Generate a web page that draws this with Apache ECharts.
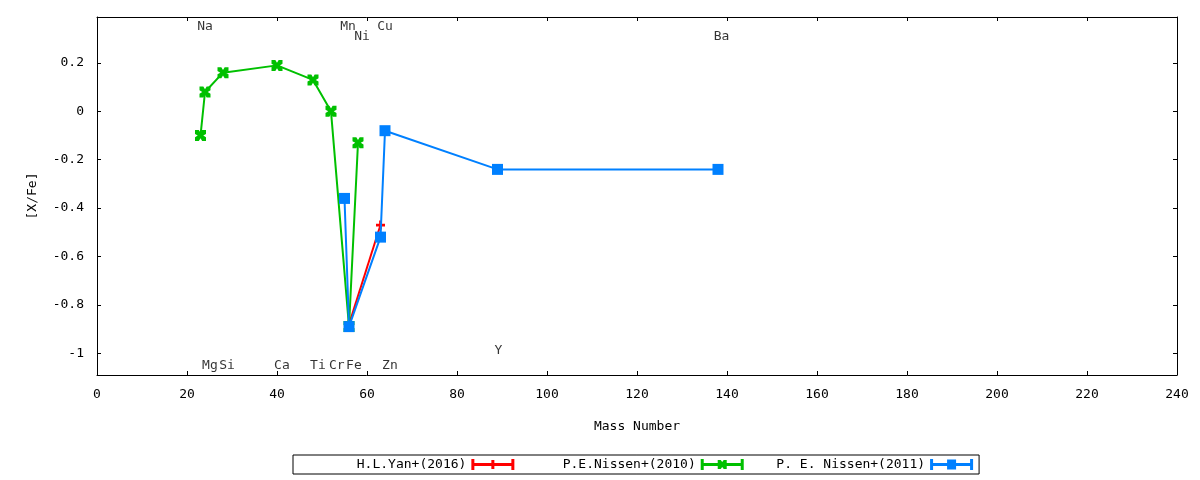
<!DOCTYPE html>
<html>
<head>
<meta charset="utf-8">
<script src="https://cdn.jsdelivr.net/npm/echarts@6/dist/echarts.min.js"></script>
<style>
html,body{margin:0;padding:0;background:#fff;}
#chart{width:1200px;height:480px;}
</style>
</head>
<body>
<div id="chart"></div>
<script>
// ---- data ----
const seriesNames = ['H.L.Yan+(2016)', 'P.E.Nissen+(2010)', 'P. E. Nissen+(2011)'];
const yanMass = [56, 63];
const yanXFe = [-0.88, -0.47];
const nissen2010Mass = [23, 24, 28, 40, 48, 52, 56, 58];
const nissen2010XFe = [-0.10, 0.08, 0.16, 0.19, 0.13, 0.00, -0.89, -0.13];
const nissen2011Mass = [55, 56, 63, 64, 89, 138];
const nissen2011XFe = [-0.36, -0.89, -0.52, -0.08, -0.24, -0.24];
const elementNames = ['Na', 'Mn', 'Cu', 'Ni', 'Ba', 'Mg', 'Si', 'Ca', 'Ti', 'Cr', 'Fe', 'Zn', 'Y'];
const elementLabelX = [24, 55.8, 64, 58.9, 138.8, 25.1, 28.9, 41.1, 49.1, 53.3, 57.1, 65.1, 89.2];
const elementLabelY = [0.35, 0.35, 0.35, 0.31, 0.31, -1.05, -1.05, -1.05, -1.05, -1.05, -1.05, -1.05, -0.99];
const xTicks = [0, 20, 40, 60, 80, 100, 120, 140, 160, 180, 200, 220, 240];
const yTicks = [-1, -0.8, -0.6, -0.4, -0.2, 0, 0.2];

const colors = ['#ff0000', '#00c000', '#0080ff'];
const FONT = 'DejaVu Sans Mono';
const FS = 13;

const pair = (xs, ys) => xs.map((x, i) => [x, ys[i]]);

const xSymbolPath = 'path://M0,0 L3.5,0 L5,2.5 L6.5,0 L10,0 L10,3.5 L7.5,5 L10,6.5 L10,10 L6.5,10 L5,7.5 L3.5,10 L0,10 L0,6.5 L2.5,5 L0,3.5 Z';
const plusSymbolPath = 'path://M3.5,0 L6.5,0 L6.5,3.5 L10,3.5 L10,6.5 L6.5,6.5 L6.5,10 L3.5,10 L3.5,6.5 L0,6.5 L0,3.5 L3.5,3.5 Z';

const bars = 'M0,0 L3,0 L3,11 L0,11 Z M40,0 L43,0 L43,11 L40,11 Z M0,4 L43,4 L43,7 L0,7 Z';
const legendIcons = [
  'path://' + bars + ' M20,1 L23,1 L23,10 L20,10 Z',
  'path://' + bars + ' M17,1 L20,1 L21.5,3 L23,1 L26,1 L26,4 L24.5,5.5 L26,7 L26,10 L23,10 L21.5,8 L20,10 L17,10 L17,7 L18.5,5.5 L17,4 Z',
  'path://' + bars + ' M17,0.5 L26,0.5 L26,10.5 L17,10.5 Z'
];

const tickStyle = {show: true, inside: true, length: 4, lineStyle: {color: '#000', width: 1}};
const lineAx = {show: true, onZero: false, lineStyle: {color: '#000', width: 1}};

// right-align legend text in fixed-width (monospace) columns
const LEGEND_COLS = 21;
const padName = name => '\u00a0'.repeat(Math.max(0, LEGEND_COLS - name.length)) + name;

const chart = echarts.init(document.getElementById('chart'), null, {renderer: 'canvas'});
chart.setOption({
  backgroundColor: '#fff',
  animation: false,
  textStyle: {fontFamily: FONT, color: '#000'},
  grid: {left: 97, right: 23, top: 17, bottom: 105, containLabel: false},
  xAxis: [{
    type: 'value', min: 0, max: 240, interval: 20,
    name: 'Mass Number', nameLocation: 'middle', nameGap: 45,
    nameTextStyle: {fontFamily: FONT, fontSize: FS, color: '#000'},
    axisLine: lineAx, axisTick: tickStyle,
    axisLabel: {fontFamily: FONT, fontSize: FS, color: '#000', margin: 13},
    splitLine: {show: false}
  }, {
    type: 'value', min: 0, max: 240, interval: 20, position: 'top',
    axisLine: lineAx, axisTick: tickStyle, axisLabel: {show: false}, splitLine: {show: false}
  }],
  yAxis: [{
    type: 'value', min: -1.09, max: 0.39,
    name: '[X/Fe]', nameLocation: 'middle', nameGap: 58, nameRotate: 90,
    nameTextStyle: {fontFamily: FONT, fontSize: FS, color: '#000'},
    axisLine: lineAx,
    axisTick: Object.assign({customValues: yTicks}, tickStyle),
    axisLabel: {customValues: yTicks, fontFamily: FONT, fontSize: FS, color: '#000', margin: 13},
    splitLine: {show: false}
  }, {
    type: 'value', min: -1.09, max: 0.39, position: 'right',
    axisLine: lineAx,
    axisTick: Object.assign({customValues: yTicks}, tickStyle),
    axisLabel: {show: false}, splitLine: {show: false}
  }],
  legend: {
    data: seriesNames.map((n, i) => ({name: n, icon: legendIcons[i]})),
    left: 293, top: 455,
    orient: 'horizontal', align: 'right',
    itemWidth: 43, itemHeight: 11, itemGap: 17,
    padding: [3, 6, 3, 9],
    borderColor: '#000', borderWidth: 1, borderRadius: 0,
    itemStyle: {borderWidth: 0},
    formatter: padName,
    textStyle: {fontFamily: FONT, fontSize: FS, color: '#000'},
    selectedMode: false
  },
  series: [
    {
      name: seriesNames[0], type: 'line', data: pair(yanMass, yanXFe),
      color: colors[0], symbol: plusSymbolPath, symbolSize: 9, showAllSymbol: true,
      lineStyle: {width: 2, color: colors[0]}, itemStyle: {color: colors[0]}, z: 2
    },
    {
      name: seriesNames[1], type: 'line', data: pair(nissen2010Mass, nissen2010XFe),
      color: colors[1], symbol: xSymbolPath, symbolSize: 11, showAllSymbol: true,
      lineStyle: {width: 2, color: colors[1]}, itemStyle: {color: colors[1]}, z: 3
    },
    {
      name: seriesNames[2], type: 'line', data: pair(nissen2011Mass, nissen2011XFe),
      color: colors[2], symbol: 'rect', symbolSize: 11, showAllSymbol: true,
      lineStyle: {width: 2, color: colors[2]}, itemStyle: {color: colors[2]}, z: 4
    },
    {
      name: 'elements', type: 'scatter', silent: true,
      data: elementNames.map((n, i) => ({name: n, value: [elementLabelX[i], elementLabelY[i]]})),
      symbolSize: 1, itemStyle: {color: 'rgba(0,0,0,0)'},
      label: {show: true, position: 'inside', formatter: '{b}', fontFamily: FONT, fontSize: FS, color: '#000'},
      z: 1
    }
  ]
});
</script>
</body>
</html>
